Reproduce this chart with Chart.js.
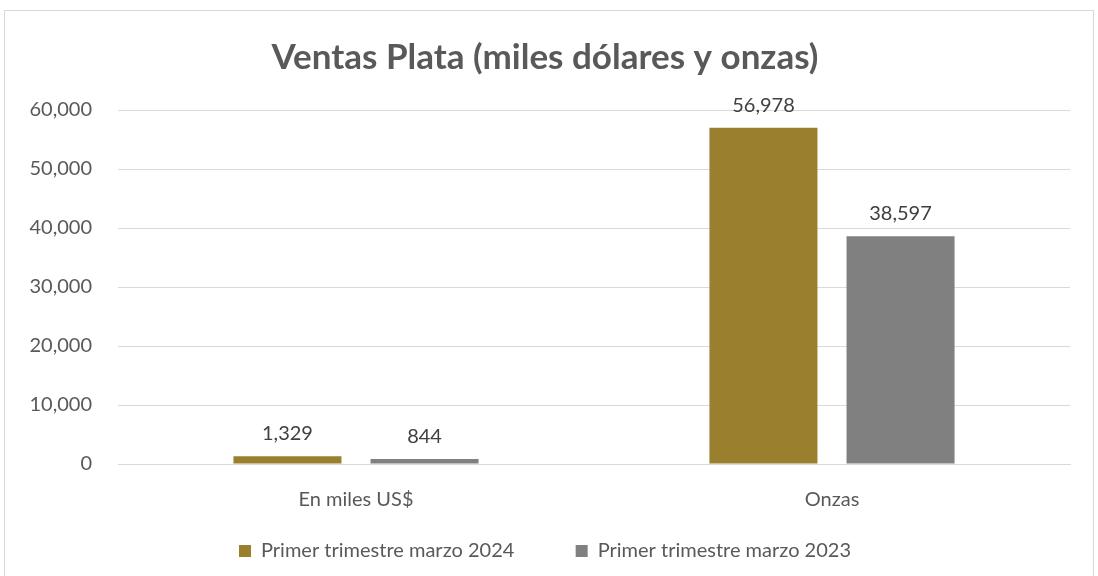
<!DOCTYPE html>
<html>
<head>
<meta charset="utf-8">
<script src="https://cdn.jsdelivr.net/npm/chart.js@4/dist/chart.umd.min.js"></script>
<style>
  html, body { margin: 0; padding: 0; background: #fff; }
  .card {
    position: absolute; left: 4px; top: 10px;
    width: 1088px; height: 575px;
    border: 1px solid #d9d9d9; border-bottom: none;
  }
  canvas { display: block; }
</style>
</head>
<body>
<div class="card"><canvas id="chart" width="1088" height="565"></canvas></div>
<script>
const categories = ["En miles US$", "Onzas"];
const seriesNames = ["Primer trimestre marzo 2024", "Primer trimestre marzo 2023"];
const ventas2024 = [1329, 56978];
const ventas2023 = [844, 38597];

const fontFamily = "Lato, 'Open Sans', sans-serif";
const fmt = v => v.toLocaleString("en-US");

// draw the value above each bar
const barLabels = {
  id: "barLabels",
  afterDatasetsDraw(chart) {
    const ctx = chart.ctx;
    ctx.save();
    ctx.font = "20px " + fontFamily;
    ctx.fillStyle = "#404040";
    ctx.textAlign = "center";
    ctx.textBaseline = "alphabetic";
    chart.data.datasets.forEach((ds, i) => {
      chart.getDatasetMeta(i).data.forEach((bar, j) => {
        ctx.fillText(fmt(ds.data[j]), bar.x, bar.y - 16);
      });
    });
    ctx.restore();
  }
};

new Chart(document.getElementById("chart"), {
  type: "bar",
  data: {
    labels: categories,
    datasets: [
      { label: seriesNames[0], data: ventas2024, backgroundColor: "#9a7f2e" },
      { label: seriesNames[1], data: ventas2023, backgroundColor: "#808080" }
    ]
  },
  options: {
    responsive: false,
    animation: false,
    layout: { padding: { left: 15, right: 23, top: 10, bottom: 5 } },
    datasets: { bar: { categoryPercentage: 0.576, barPercentage: 0.788 } },
    plugins: {
      title: {
        display: true,
        text: "Ventas Plata (miles dólares y onzas)",
        color: "#595959",
        font: { family: fontFamily, size: 35, weight: "bold" },
        padding: { top: 16, bottom: 31 }
      },
      legend: {
        position: "bottom",
        labels: {
          color: "#595959",
          font: { family: fontFamily, size: 20 },
          boxWidth: 12, boxHeight: 12, padding: 5,
          generateLabels(chart) {
            const items = Chart.defaults.plugins.legend.labels.generateLabels(chart);
            items[0].text += "\u00a0".repeat(11);
            return items;
          }
        }
      },
      tooltip: { enabled: false }
    },
    scales: {
      x: {
        grid: { display: false, drawTicks: false },
        border: { color: "#d9d9d9" },
        ticks: { color: "#595959", font: { family: fontFamily, size: 20 }, padding: 24 }
      },
      y: {
        min: 0, max: 60000,
        afterFit(scale) { scale.width = 98; },
        grid: { color: "#d9d9d9", drawTicks: false },
        border: { display: false },
        ticks: {
          stepSize: 10000,
          color: "#595959",
          font: { family: fontFamily, size: 20 },
          padding: 26,
          callback: v => fmt(v)
        }
      }
    }
  },
  plugins: [barLabels]
});
</script>
</body>
</html>
